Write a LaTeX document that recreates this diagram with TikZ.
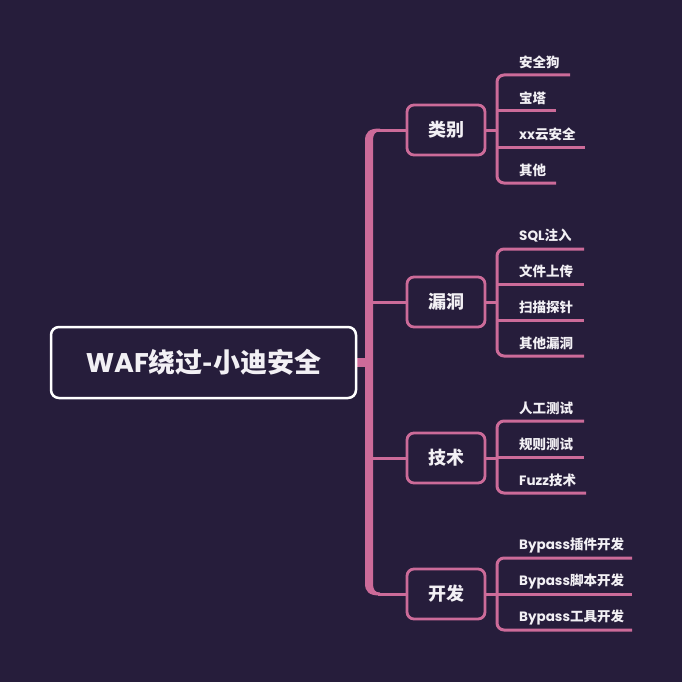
\documentclass[tikz,border=0pt]{standalone}
\usepackage{fontspec}
\newfontfamily\cjk{Noto Sans CJK SC}
\newfontfamily\lat{Poppins}
\definecolor{bg}{HTML}{261D3B}
\definecolor{pk}{HTML}{CC6B99}
\definecolor{tx}{HTML}{F2F0F4}
\begin{document}
\begin{tikzpicture}[x=1pt,y=-1pt,
  rootbox/.style={draw=white,line width=2.5pt,rounded corners=8pt,fill=bg,minimum width=305pt,minimum height=71pt,inner sep=0pt,text=tx,font=\cjk\bfseries\fontsize{27}{30}\selectfont},
  catbox/.style={draw=pk,line width=2.8pt,rounded corners=7pt,fill=bg,minimum width=78pt,minimum height=50pt,inner sep=0pt,text=tx,font=\cjk\bfseries\fontsize{18}{20}\selectfont},
  leaf/.style={anchor=west,inner sep=0pt,text=tx,font=\cjk\bfseries\fontsize{13.5}{15}\selectfont},
  branch/.style={draw=pk,line width=3pt},
  bracket/.style={draw=pk,line width=3pt,rounded corners=7pt}]
\fill[bg] (0,0) rectangle (682,682);
\useasboundingbox (0,0) rectangle (682,682);

% trunk (tapering into the thin branches at both ends)
\fill[pk] (380,128.5) .. controls (369,128.5) and (365,132) .. (365,141)
  -- (365,583) .. controls (365,592) and (369,595.5) .. (380,595.5)
  -- (380,592.5) .. controls (375,592.5) and (373,590) .. (373,583)
  -- (373,141) .. controls (373,134) and (375,131.5) .. (380,131.5) -- cycle;
\draw[draw=pk,line width=9pt] (356,362) -- (369,362);

% root
\node[rootbox] (root) at (203.5,362.5) {{\lat\bfseries WAF}绕过-小迪安全};

% categories
\node[catbox] (c1) at (446,130) {类别};
\node[catbox] (c2) at (446,302) {漏洞};
\node[catbox] (c3) at (446,458) {技术};
\node[catbox] (c4) at (446,594) {开发};

\coordinate (t1) at (378,130);
\coordinate (t2) at (369,302);
\coordinate (t3) at (369,458);
\coordinate (t4) at (378,594);
\draw[branch] (t1) -- (c1.west);
\draw[branch] (t2) -- (c2.west);
\draw[branch] (t3) -- (c3.west);
\draw[branch] (t4) -- (c4.west);

% group 1
\draw[branch] (c1.east) -- (497,130);
\draw[bracket] (570,75) -- (497,75) -- (497,183) -- (556,183);
\draw[branch] (497,111) -- (556,111);
\draw[branch] (497,147) -- (585,147);
\node[leaf] (l11) at (519,62) {安全狗};
\node[leaf] (l12) at (519,98) {宝塔};
\node[leaf] (l13) at (519,134) {{\lat\bfseries xx}云安全};
\node[leaf] (l14) at (519,170) {其他};

% group 2
\draw[branch] (c2.east) -- (497,302);
\draw[bracket] (584,249) -- (497,249) -- (497,356) -- (584,356);
\draw[branch] (497,284) -- (584,284);
\draw[branch] (497,320) -- (584,320);
\node[leaf] (l21) at (519,236) {{\lat\bfseries SQL}注入};
\node[leaf] (l22) at (519,271) {文件上传};
\node[leaf] (l23) at (519,307) {扫描探针};
\node[leaf] (l24) at (519,343) {其他漏洞};

% group 3
\draw[branch] (c3.east) -- (497,458);
\draw[bracket] (584,421) -- (497,421) -- (497,493) -- (586,493);
\draw[branch] (497,457) -- (584,457);
\node[leaf] (l31) at (519,408) {人工测试};
\node[leaf] (l32) at (519,444) {规则测试};
\node[leaf] (l33) at (519,480) {{\lat\bfseries Fuzz}技术};

% group 4
\draw[branch] (c4.east) -- (497,594);
\draw[bracket] (632,558) -- (497,558) -- (497,630) -- (632,630);
\draw[branch] (497,594) -- (632,594);
\node[leaf] (l41) at (519,545) {{\lat\bfseries Bypass}插件开发};
\node[leaf] (l42) at (519,581) {{\lat\bfseries Bypass}脚本开发};
\node[leaf] (l43) at (519,617) {{\lat\bfseries Bypass}工具开发};
\end{tikzpicture}
\end{document}
